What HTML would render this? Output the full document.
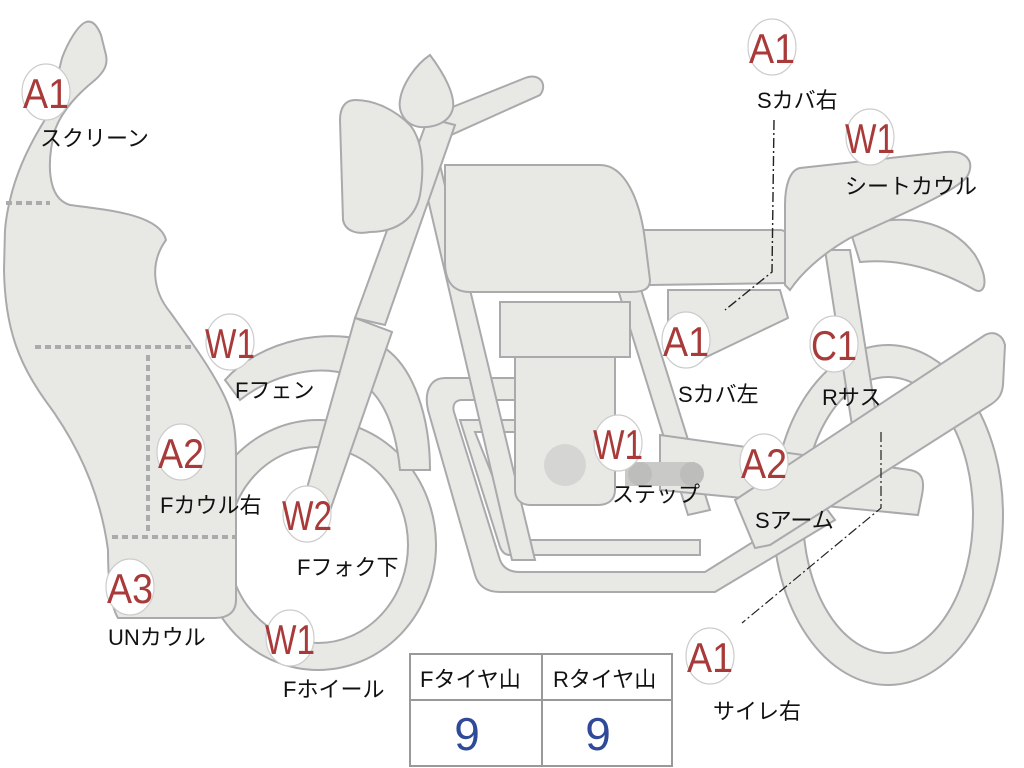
<!DOCTYPE html>
<html><head><meta charset="utf-8"><style>
html,body{margin:0;padding:0;background:#fff;width:1024px;height:768px;overflow:hidden}
svg{display:block}
.s{fill:#e8e8e5;stroke:#a8aaab;stroke-width:2}
.m{fill:#fff;stroke:#ccc;stroke-width:1.2}
.r{fill:#a83a3a;font-family:"Liberation Sans",sans-serif;font-size:42px}
.t{fill:#111;font-family:"Liberation Sans","Noto Sans CJK JP",sans-serif;font-size:22px}
.d{stroke:#a9abad;stroke-width:4;stroke-dasharray:6 4;fill:none}
</style></head><body>
<svg width="1024" height="768" viewBox="0 0 1024 768">
<path class="s" fill-rule="evenodd" d="M773,515a115,170 0 1,0 230,0a115,170 0 1,0 -230,0Z M803,515a85,138 0 1,0 170,0a85,138 0 1,0 -170,0Z"/>
<path class="s" fill-rule="evenodd" d="M200,545a118,125 0 1,0 236,0a118,125 0 1,0 -236,0Z M228,545a90,98 0 1,0 180,0a90,98 0 1,0 -180,0Z"/>
<path class="s" d="M225,380 C260,340 330,325 380,345 C415,365 430,420 430,470 L400,470 C395,420 380,390 350,375 C310,362 265,380 240,400Z"/>
<path class="s" d="M850,230 C900,210 950,220 975,255 C990,280 985,295 975,290 C940,270 900,258 860,262Z"/>
<path class="s" d="M825,250 L850,250 L880,440 L855,445Z"/>
<path class="s" d="M445,378 L520,378 L520,400 L462,400 C455,400 452,405 454,412 L500,560 C503,568 510,572 520,572 L705,572 L820,500 L835,520 L715,592 L500,592 C485,592 478,585 475,575 L428,410 C424,392 430,378 445,378Z"/>
<path class="s" d="M460,420 L515,420 L515,432 L475,432 L518,540 L700,540 L700,555 L510,555 C505,555 502,552 500,547Z"/>
<path class="s" d="M420,165 L440,165 L535,560 L512,560Z"/>
<path class="s" d="M615,280 L638,280 L710,510 L688,515Z"/>
<path class="s" d="M660,435 L910,470 C922,472 925,480 922,495 L918,515 L660,490Z"/>
<path class="s" d="M668,290 L780,290 L788,318 L700,360 L668,345Z"/>
<path class="s" d="M515,350 L615,350 L615,490 C615,500 608,505 598,505 L530,505 C520,505 515,498 515,490Z"/>
<path class="s" d="M500,302 L630,302 L630,357 L500,357Z"/>
<circle cx="565" cy="465" r="21" fill="#d5d5d3"/>
<path d="M625,462 L695,462 L695,486 L625,486Z" fill="#c9c9c7"/>
<circle cx="640" cy="474" r="12" fill="#bdbdbb"/><circle cx="692" cy="474" r="12" fill="#bdbdbb"/>
<path class="s" d="M735,500 L985,335 C995,330 1003,336 1005,345 L1003,385 C1002,395 998,400 990,405 L770,545 L755,548 Z"/>
<path class="s" d="M645,230 L780,230 C786,230 788,235 788,240 L788,283 L650,285 C643,285 640,280 640,272 L638,240 C638,233 640,230 645,230Z"/>
<path class="s" d="M800,168 L945,152 C965,150 975,160 968,175 C960,190 900,215 850,238 C820,255 800,275 790,290 L785,285 L785,205 C785,185 790,170 800,168Z"/>
<path class="s" d="M445,165 L600,165 C625,165 640,200 645,240 L650,280 C650,290 642,292 630,292 L470,292 C452,292 445,280 445,262Z"/>
<path class="s" d="M420,120 L525,78 C540,72 548,85 540,95 L440,140Z"/>
<path class="s" d="M428,118 L455,125 L385,325 L355,318Z"/>
<path class="s" d="M355,318 L392,332 L325,525 L298,520Z"/>
<path class="s" d="M430,55 C445,75 455,95 453,108 C450,122 435,128 420,127 C405,125 398,112 400,100 C402,85 415,65 430,55Z"/>
<path class="s" d="M355,100 C375,100 395,110 410,125 C422,140 425,165 420,195 C415,220 395,232 370,232 C355,235 345,230 343,220 L340,120 C340,108 345,100 355,100Z"/>
<!-- fairing -->
<path class="s" d="M10,200 C18,165 35,135 48,115 L62,58 C68,42 78,25 86,22 C92,20 97,25 101,35 L106,55 C108,65 104,72 95,80 C80,92 62,110 55,130 C47,160 46,198 70,205 C110,210 160,215 166,240 C150,262 152,290 170,312 C190,340 220,380 230,410 C235,425 236,440 236,460 L236,600 C236,612 228,618 215,618 L118,618 C110,605 108,575 108,550 C100,490 75,440 45,400 C20,365 5,330 4,270 L5,230 C6,218 8,208 10,200Z"/>
<path class="d" d="M6,203 L50,203 M35,347 L195,347 M148,355 L148,535 M112,537 L235,537"/>
<path d="M774,120 L772,272 L725,310" fill="none" stroke="#222" stroke-width="1.4" stroke-dasharray="10 3 2 3"/>
<path d="M881,432 L881,508 L742,623" fill="none" stroke="#222" stroke-width="1.2" stroke-dasharray="10 3 2 3"/>
<g>
<ellipse class="m" cx="46" cy="92" rx="24" ry="28"/><text class="r" x="23" y="108" textLength="46" lengthAdjust="spacingAndGlyphs">A1</text>
<ellipse class="m" cx="230" cy="342" rx="24" ry="28"/><text class="r" x="205" y="358" textLength="50" lengthAdjust="spacingAndGlyphs">W1</text>
<ellipse class="m" cx="181" cy="452" rx="24" ry="28"/><text class="r" x="158" y="468" textLength="46" lengthAdjust="spacingAndGlyphs">A2</text>
<ellipse class="m" cx="307" cy="514" rx="24" ry="28"/><text class="r" x="282" y="530" textLength="50" lengthAdjust="spacingAndGlyphs">W2</text>
<ellipse class="m" cx="130" cy="587" rx="24" ry="28"/><text class="r" x="107" y="603" textLength="46" lengthAdjust="spacingAndGlyphs">A3</text>
<ellipse class="m" cx="290" cy="638" rx="24" ry="28"/><text class="r" x="265" y="654" textLength="50" lengthAdjust="spacingAndGlyphs">W1</text>
<ellipse class="m" cx="772" cy="47" rx="24" ry="28"/><text class="r" x="749" y="63" textLength="46" lengthAdjust="spacingAndGlyphs">A1</text>
<ellipse class="m" cx="870" cy="137" rx="24" ry="28"/><text class="r" x="845" y="153" textLength="50" lengthAdjust="spacingAndGlyphs">W1</text>
<ellipse class="m" cx="686" cy="340" rx="24" ry="28"/><text class="r" x="663" y="356" textLength="46" lengthAdjust="spacingAndGlyphs">A1</text>
<ellipse class="m" cx="834" cy="344" rx="24" ry="28"/><text class="r" x="811" y="360" textLength="46" lengthAdjust="spacingAndGlyphs">C1</text>
<ellipse class="m" cx="618" cy="443" rx="24" ry="28"/><text class="r" x="593" y="459" textLength="50" lengthAdjust="spacingAndGlyphs">W1</text>
<ellipse class="m" cx="764" cy="462" rx="24" ry="28"/><text class="r" x="741" y="478" textLength="46" lengthAdjust="spacingAndGlyphs">A2</text>
<ellipse class="m" cx="710" cy="656" rx="24" ry="28"/><text class="r" x="687" y="672" textLength="46" lengthAdjust="spacingAndGlyphs">A1</text>
</g>
<g class="t">
<text x="40" y="146">スクリーン</text>
<text x="235" y="398">Fフェン</text>
<text x="160" y="513">Fカウル右</text>
<text x="297" y="575">Fフォク下</text>
<text x="108" y="645">UNカウル</text>
<text x="283" y="697">Fホイール</text>
<text x="757" y="108">Sカバ右</text>
<text x="845" y="194">シートカウル</text>
<text x="678" y="402">Sカバ左</text>
<text x="822" y="405">Rサス</text>
<text x="612" y="502">ステップ</text>
<text x="755" y="528">Sアーム</text>
<text x="713" y="719">サイレ右</text>
</g>
<rect x="410" y="654" width="262" height="112" fill="#fff" stroke="#999" stroke-width="2"/>
<line x1="410" y1="700" x2="672" y2="700" stroke="#999" stroke-width="2"/>
<line x1="542" y1="654" x2="542" y2="766" stroke="#999" stroke-width="2"/>
<text class="t" x="420" y="687">Fタイヤ山</text>
<text class="t" x="553" y="687">Rタイヤ山</text>
<text x="467" y="750" fill="#2f4a98" font-family="Liberation Sans,sans-serif" font-size="46" text-anchor="middle">9</text>
<text x="598" y="750" fill="#2f4a98" font-family="Liberation Sans,sans-serif" font-size="46" text-anchor="middle">9</text>
</svg>
</body></html>
